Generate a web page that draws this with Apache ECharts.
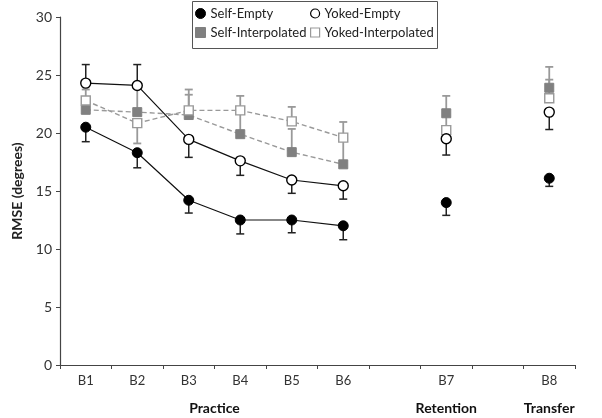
<!DOCTYPE html>
<html>
<head>
<meta charset="utf-8">
<script src="https://cdn.jsdelivr.net/npm/echarts@6/dist/echarts.min.js"></script>
<style>
  html, body { margin: 0; padding: 0; background: #fff; }
  #chart { width: 602px; height: 418px; }
</style>
</head>
<body>
<div id="chart"></div>
<script>
// blocks on the x axis, empty slots keep the gaps before B7 and B8
const categories = ['B1', 'B2', 'B3', 'B4', 'B5', 'B6', '', 'B7', '', 'B8'];

// mean RMSE per block
const selfEmpty = [20.5, 18.3, 14.2, 12.5, 12.5, 12.0, '-', 14.0, '-', 16.1];
const yokedEmpty = [24.3, 24.1, 19.45, 17.6, 15.95, 15.45, '-', 19.5, '-', 21.8];
const selfInterp = [22.0, 21.8, 21.55, 19.9, 18.35, 17.3, '-', 21.7, '-', 23.9];
const yokedInterp = [22.8, 20.85, 21.95, 21.95, 21.0, 19.6, '-', 20.25, '-', 23.0];

// end of the (one-sided) error whisker for each point
const selfEmptyErr = [19.25, 17.0, 13.1, 11.3, 11.4, 10.8, '-', 12.9, '-', 15.4];
const yokedEmptyErr = [25.9, 25.9, 17.9, 16.35, 14.8, 14.3, '-', 18.1, '-', 20.3];
const selfInterpErr = [22.6, 24.0, 23.75, 21.7, 20.35, 19.3, '-', 23.2, '-', 25.7];
const yokedInterpErr = [23.75, 19.1, 23.3, 23.2, 22.25, 20.95, '-', 21.5, '-', 24.6];

const yTicks = { min: 0, max: 30, interval: 5 };

const groups = [
  { name: 'Practice', from: 0, to: 5 },
  { name: 'Retention', from: 7, to: 7 },
  { name: 'Transfer', from: 9, to: 9 }
];

const font = 'Lato';

function errData(vals, errs) {
  const out = [];
  vals.forEach(function (v, i) {
    if (v !== '-') out.push([i, v, errs[i]]);
  });
  return out;
}

function errSeries(name, vals, errs, color, width) {
  return {
    name: name,
    type: 'custom',
    z: 1,
    silent: true,
    data: errData(vals, errs),
    renderItem: function (params, api) {
      const p0 = api.coord([api.value(0), api.value(1)]);
      const p1 = api.coord([api.value(0), api.value(2)]);
      const st = { stroke: color, lineWidth: width };
      return {
        type: 'group',
        children: [
          { type: 'line', shape: { x1: p0[0], y1: p0[1], x2: p1[0], y2: p1[1] }, style: st },
          { type: 'line', shape: { x1: p1[0] - 4, y1: p1[1], x2: p1[0] + 4, y2: p1[1] }, style: st }
        ]
      };
    }
  };
}

const chart = echarts.init(document.getElementById('chart'));

chart.setOption({
  animation: false,
  textStyle: { fontFamily: font },
  grid: { left: 60, right: 27, top: 17, bottom: 53 },
  legend: [
    {
      left: 195, top: 7, orient: 'vertical', padding: 0, itemGap: 6,
      itemWidth: 10, itemHeight: 10,
      textStyle: { fontSize: 13, color: '#222', fontFamily: font },
      data: [
        { name: 'Self-Empty', icon: 'circle', itemStyle: { color: '#000', borderColor: '#000', borderWidth: 1 } },
        { name: 'Self-Interpolated', icon: 'rect', itemStyle: { color: '#808080', borderColor: '#808080', borderWidth: 1 } }
      ]
    },
    {
      left: 310, top: 7, orient: 'vertical', padding: 0, itemGap: 6,
      itemWidth: 9, itemHeight: 9,
      textStyle: { fontSize: 13, color: '#222', fontFamily: font },
      data: [
        { name: 'Yoked-Empty', icon: 'circle', itemStyle: { color: '#fff', borderColor: '#000', borderWidth: 1.2 } },
        { name: 'Yoked-Interpolated', icon: 'rect', itemStyle: { color: '#fff', borderColor: '#999', borderWidth: 1.2 } }
      ]
    }
  ],
  xAxis: {
    type: 'category',
    data: categories,
    boundaryGap: true,
    axisLine: { lineStyle: { color: '#444', width: 1.2 } },
    axisTick: { show: true, length: 4, lineStyle: { color: '#444' } },
    axisLabel: { color: '#333', fontSize: 13, margin: 9, interval: 0 },
    splitLine: { show: false }
  },
  yAxis: {
    type: 'value',
    min: yTicks.min, max: yTicks.max, interval: yTicks.interval,
    name: 'RMSE (degrees)',
    nameLocation: 'middle',
    nameGap: 36,
    nameTextStyle: { fontWeight: 'bold', fontSize: 14, color: '#222' },
    axisLine: { show: true, lineStyle: { color: '#444', width: 1.2 } },
    axisTick: { show: true, length: 4, lineStyle: { color: '#444' } },
    axisLabel: { color: '#333', fontSize: 14, margin: 8 },
    splitLine: { show: false }
  },
  series: [
    errSeries('err-se', selfEmpty, selfEmptyErr, '#222', 1.5),
    errSeries('err-ye', yokedEmpty, yokedEmptyErr, '#222', 1.5),
    errSeries('err-si', selfInterp, selfInterpErr, '#999', 1.8),
    errSeries('err-yi', yokedInterp, yokedInterpErr, '#999', 1.8),
    {
      name: 'Self-Interpolated', type: 'line', z: 3, data: selfInterp,
      symbol: 'rect', symbolSize: 9, showAllSymbol: true, connectNulls: false,
      lineStyle: { color: '#999', width: 1.4, type: [5, 3] },
      itemStyle: { color: '#808080', borderColor: '#808080', borderWidth: 1 }
    },
    {
      name: 'Yoked-Interpolated', type: 'line', z: 4, data: yokedInterp,
      symbol: 'rect', symbolSize: 9, showAllSymbol: true, connectNulls: false,
      lineStyle: { color: '#999', width: 1.4, type: [5, 3] },
      itemStyle: { color: '#fff', borderColor: '#999', borderWidth: 1.4 }
    },
    {
      name: 'Self-Empty', type: 'line', z: 5, data: selfEmpty,
      symbol: 'circle', symbolSize: 10, showAllSymbol: true, connectNulls: false,
      lineStyle: { color: '#111', width: 1.2 },
      itemStyle: { color: '#000', borderColor: '#000', borderWidth: 1 }
    },
    {
      name: 'Yoked-Empty', type: 'line', z: 6, data: yokedEmpty,
      symbol: 'circle', symbolSize: 10, showAllSymbol: true, connectNulls: false,
      lineStyle: { color: '#111', width: 1.2 },
      itemStyle: { color: '#fff', borderColor: '#000', borderWidth: 1.4 }
    }
  ]
});

// group labels under the axis, centred on their blocks; legend frame
const graphics = groups.map(function (g) {
  const a = chart.convertToPixel({ xAxisIndex: 0 }, g.from);
  const b = chart.convertToPixel({ xAxisIndex: 0 }, g.to);
  return {
    type: 'text',
    x: (a + b) / 2, y: 408,
    style: {
      text: g.name, fontFamily: font, fontWeight: 'bold', fontSize: 14,
      fill: '#111', align: 'center', verticalAlign: 'middle'
    }
  };
});
graphics.push({
  type: 'rect',
  shape: { x: 192.5, y: 1.5, width: 245, height: 47 },
  style: { fill: 'none', stroke: '#555', lineWidth: 1 },
  z: 10
});
chart.setOption({ graphic: graphics });
</script>
</body>
</html>
